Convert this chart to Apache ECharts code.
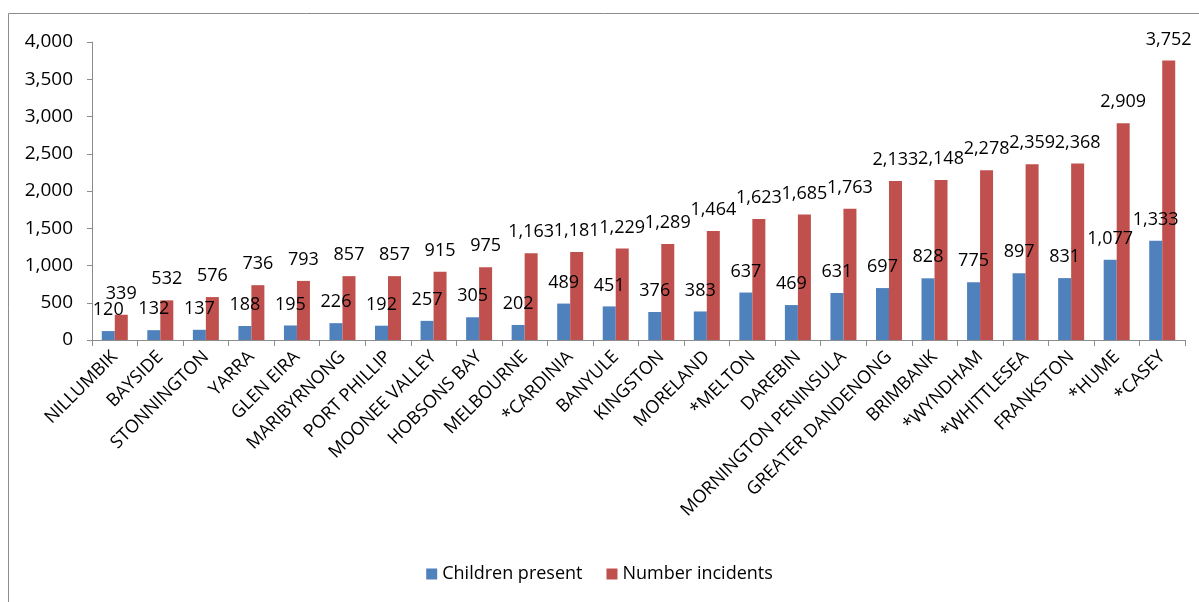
<!DOCTYPE html>
<html>
<head>
<meta charset="utf-8">
<script src="https://cdn.jsdelivr.net/npm/echarts@6/dist/echarts.min.js"></script>
<style>
  html, body { margin: 0; padding: 0; background: #fff; }
  #chart { width: 1199px; height: 602px; }
</style>
</head>
<body>
<div id="chart"></div>
<script>
var councils = ['NILLUMBIK', 'BAYSIDE', 'STONNINGTON', 'YARRA', 'GLEN EIRA', 'MARIBYRNONG', 'PORT PHILLIP',
    'MOONEE VALLEY', 'HOBSONS BAY', 'MELBOURNE', '*CARDINIA', 'BANYULE', 'KINGSTON', 'MORELAND', '*MELTON',
    'DAREBIN', 'MORNINGTON PENINSULA', 'GREATER DANDENONG', 'BRIMBANK', '*WYNDHAM', '*WHITTLESEA',
    'FRANKSTON', '*HUME', '*CASEY'];
var childrenPresent = [120, 132, 137, 188, 195, 226, 192, 257, 305, 202, 489, 451, 376, 383, 637,
    469, 631, 697, 828, 775, 897, 831, 1077, 1333];
var numberIncidents = [339, 532, 576, 736, 793, 857, 857, 915, 975, 1163, 1181, 1229, 1289, 1464, 1623,
    1685, 1763, 2133, 2148, 2278, 2359, 2368, 2909, 3752];

var fontFam = '"Open Sans", "Noto Sans", sans-serif';

function fmt(v) {
    return Number(v).toLocaleString('en-US');
}

var myChart = echarts.init(document.getElementById('chart'));
var option = {
    animation: false,
    textStyle: { fontFamily: fontFam },
    graphic: [{
        type: 'rect',
        shape: { x: 8.5, y: 13.5, width: 1200, height: 600 },
        style: { fill: 'none', stroke: '#8c8c8c', lineWidth: 1 }
    }],
    grid: {
        left: 92,
        right: 14,
        top: 42,
        bottom: 262
    },
    legend: {
        bottom: 14,
        left: 'center',
        itemWidth: 11,
        itemHeight: 11,
        itemGap: 24,
        icon: 'rect',
        textStyle: { fontSize: 18, color: '#000', fontFamily: fontFam },
        data: ['Children present', 'Number incidents']
    },
    xAxis: {
        type: 'category',
        data: councils,
        axisLine: { lineStyle: { color: '#8c8c8c' } },
        axisTick: { show: true, length: 6, lineStyle: { color: '#8c8c8c' } },
        axisLabel: {
            interval: 0,
            rotate: 45,
            fontSize: 18,
            color: '#000',
            margin: 14,
            fontFamily: fontFam
        }
    },
    yAxis: {
        type: 'value',
        min: 0,
        max: 4000,
        interval: 500,
        splitLine: { show: false },
        axisLine: { show: true, lineStyle: { color: '#8c8c8c' } },
        axisTick: { show: true, length: 5, lineStyle: { color: '#8c8c8c' } },
        axisLabel: {
            fontSize: 19,
            color: '#000',
            margin: 19,
            fontFamily: fontFam,
            formatter: function (v) { return fmt(v); }
        }
    },
    series: [{
        name: 'Children present',
        type: 'bar',
        data: childrenPresent,
        barWidth: 13,
        barGap: '0%',
        itemStyle: { color: '#4f81bd' },
        label: {
            show: true,
            position: 'top',
            distance: 12,
            fontSize: 18,
            color: '#000',
            fontFamily: fontFam,
            formatter: function (p) { return fmt(p.value); }
        }
    }, {
        name: 'Number incidents',
        type: 'bar',
        data: numberIncidents,
        barWidth: 13,
        barGap: '0%',
        itemStyle: { color: '#c0504d' },
        label: {
            show: true,
            position: 'top',
            distance: 12,
            fontSize: 18,
            color: '#000',
            fontFamily: fontFam,
            formatter: function (p) { return fmt(p.value); }
        }
    }]
};
myChart.setOption(option);
</script>
</body>
</html>
